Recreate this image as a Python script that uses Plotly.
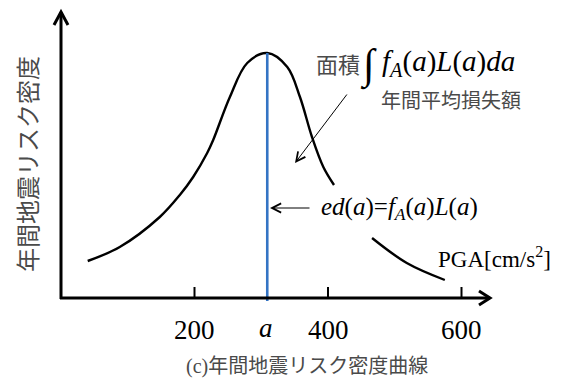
import plotly.graph_objects as go

# --- data ---------------------------------------------------------------
# annual seismic risk density curve ed(a) against PGA [cm/s^2]
# (the curve is broken where the ed(a) label sits)
pga = [40, 88, 148, 178, 198, 219, 228, 253, 279, 309, 339, 358, 376, 393, 409,
       None, 466, 518, 575]
risk_density = [37, 51, 81, 103, 121, 145, 158, 201, 235, 245, 231, 201, 161, 131, 113,
                None, 60, 35, 18]

a_value = 309          # PGA level marked as "a"
a_density = 245        # ed(a) at that level
tick_values = [200, 400, 600]
tick_labels = ["200", "400", "600"]

# --- canvas geometry ----------------------------------------------------
W, H = 566, 379
X_SCALE = 0.6675       # pixels per cm/s^2
X0_PX = 61             # pixel column of PGA = 0
Y0_PX = 298            # pixel row of density = 0
x_range = [-X0_PX / X_SCALE, (W - X0_PX) / X_SCALE]
y_range = [Y0_PX - H, Y0_PX]


def px2x(px):
    return (px - X0_PX) / X_SCALE


def py2y(py):
    return Y0_PX - py


SERIF = "Liberation Serif, 'Noto Sans CJK JP', serif"
CJK = "'Noto Sans CJK JP', sans-serif"
GREY = "#4a4a4a"
AX_W = 3

x_tip = px2x(490)
y_tip = py2y(12)

fig = go.Figure()

# density curve
fig.add_trace(go.Scatter(
    x=pga, y=risk_density, mode="lines",
    line=dict(color="black", width=2.4, shape="spline", smoothing=1.0),
    connectgaps=False, hoverinfo="skip", showlegend=False))

# vertical line at a
fig.add_trace(go.Scatter(
    x=[a_value, a_value], y=[-3, a_density], mode="lines",
    line=dict(color="#3474c4", width=2.6),
    hoverinfo="skip", showlegend=False))

shapes = []
# axes
shapes.append(dict(type="line", xref="x", yref="y", x0=px2x(X0_PX - 1), y0=0, x1=x_tip, y1=0,
                   line=dict(color="black", width=AX_W)))
shapes.append(dict(type="line", xref="x", yref="y", x0=0, y0=-1, x1=0, y1=y_tip,
                   line=dict(color="black", width=AX_W)))
# chevron arrowheads
shapes.append(dict(type="path", xref="x", yref="y", xsizemode="pixel", ysizemode="pixel",
                   xanchor=0, yanchor=y_tip, path="M-7,-13 L0,0 L7,-13",
                   line=dict(color="black", width=AX_W)))
shapes.append(dict(type="path", xref="x", yref="y", xsizemode="pixel", ysizemode="pixel",
                   xanchor=x_tip, yanchor=0, path="M-11,7 L0,0 L-11,-7",
                   line=dict(color="black", width=AX_W)))
# tick marks
for tv in tick_values:
    shapes.append(dict(type="line", xref="x", yref="y", ysizemode="pixel", yanchor=0,
                       x0=tv, x1=tv, y0=0, y1=11, line=dict(color="black", width=2)))

annotations = []
# tick labels
for tv, tl in zip(tick_values, tick_labels):
    annotations.append(dict(x=tv, y=py2y(330), text=tl, showarrow=False,
                            font=dict(family=SERIF, size=27, color="black")))
annotations.append(dict(x=a_value - 2, y=py2y(328), text="<i>a</i>", showarrow=False,
                        font=dict(family=SERIF, size=27, color="black")))

# axis titles
annotations.append(dict(x=px2x(26), y=py2y(164), text="年間地震リスク密度", textangle=-90,
                        showarrow=False, font=dict(family=CJK, size=24, color=GREY)))
annotations.append(dict(x=px2x(494), y=py2y(257), text="PGA[cm/s<sup>2</sup>]",
                        showarrow=False, font=dict(family=SERIF, size=23, color="black")))

# area formula
annotations.append(dict(x=px2x(338), y=py2y(63), text="面積", showarrow=False,
                        font=dict(family=CJK, size=22, color=GREY)))
annotations.append(dict(x=px2x(368), y=py2y(65), text="∫", showarrow=False,
                        font=dict(family=SERIF, size=42, color="black")))
annotations.append(dict(x=px2x(380), y=py2y(63), xanchor="left",
                        text="<i>f</i><sub><i>A</i></sub>(<i>a</i>)<i>L</i>(<i>a</i>)<i>da</i>",
                        showarrow=False, font=dict(family=SERIF, size=29, color="black")))
annotations.append(dict(x=px2x(451), y=py2y(99), text="年間平均損失額", showarrow=False,
                        font=dict(family=CJK, size=20, color=GREY)))
annotations.append(dict(x=px2x(295), y=py2y(163), ax=53, ay=-70, text="",
                        showarrow=True, arrowhead=5, arrowsize=1.8, arrowwidth=1,
                        arrowcolor="black", standoff=0))

# ed(a) label
annotations.append(dict(x=px2x(319), y=py2y(208), xanchor="left",
                        text="<i>ed</i>(<i>a</i>)=<i>f</i><sub><i>A</i></sub>(<i>a</i>)<i>L</i>(<i>a</i>)",
                        showarrow=False, font=dict(family=SERIF, size=25, color="black")))
annotations.append(dict(x=px2x(270), y=py2y(208), ax=41, ay=0, text="",
                        showarrow=True, arrowhead=5, arrowsize=1.8, arrowwidth=1,
                        arrowcolor="black", standoff=0))

# caption
annotations.append(dict(x=px2x(307), y=py2y(366),
                        text="(c)年間地震リスク密度曲線",
                        showarrow=False, font=dict(family=SERIF, size=20, color=GREY)))

fig.update_layout(
    width=W, height=H,
    margin=dict(l=0, r=0, t=0, b=0),
    paper_bgcolor="white", plot_bgcolor="white",
    xaxis=dict(range=x_range, visible=False, fixedrange=True),
    yaxis=dict(range=y_range, visible=False, fixedrange=True),
    shapes=shapes, annotations=annotations,
    showlegend=False,
)

fig.write_html("out.html")
